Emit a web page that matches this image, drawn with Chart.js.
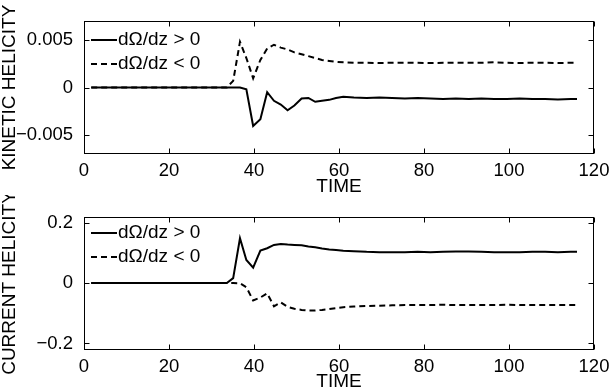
<!DOCTYPE html>
<html>
<head>
<meta charset="utf-8">
<script src="https://cdn.jsdelivr.net/npm/chart.js@4.4.1/dist/chart.umd.min.js"></script>
<style>
  html, body { margin: 0; padding: 0; background: #fff; overflow: hidden; }
  canvas { display: block; }
</style>
</head>
<body>
<canvas id="kineticChart" width="610" height="195"></canvas>
<canvas id="currentChart" width="610" height="195"></canvas>
<script>
// Data
const time = [
  1.7, 33.6, 35.1, 36.7, 38.2, 39.8, 41.5, 43.1, 44.7, 46.3, 47.9, 49.5, 51.2,
  52.8, 54.4, 56.0, 57.7, 59.3, 61.0, 63.5, 66.5, 69.5, 72.5, 75.5, 78.5, 81.5,
  84.5, 87.5, 90.5, 93.5, 96.5, 99.5, 102.5, 105.5, 108.5, 111.5, 114.5, 116.0,
];
const kineticPos = [
  0, 0, 0, 0, -0.0002, -0.00405, -0.00335, -0.0005, -0.0014, -0.0018, -0.0024,
  -0.0019, -0.00115, -0.0011, -0.0015, -0.0014, -0.0013, -0.0011, -0.00097,
  -0.00105, -0.0011, -0.00105, -0.0011, -0.00115, -0.0011, -0.00115, -0.0012,
  -0.00115, -0.0012, -0.00115, -0.0012, -0.0012, -0.00115, -0.0012, -0.0012,
  -0.00125, -0.0012, -0.0012,
];
const kineticNeg = [
  0, 0, 0.0007, 0.0048, 0.0031, 0.00097, 0.0029, 0.0041, 0.0045, 0.0042, 0.004,
  0.0037, 0.0035, 0.0033, 0.0031, 0.0029, 0.0028, 0.0027, 0.00265, 0.0026,
  0.0026, 0.00258, 0.0026, 0.00262, 0.0026, 0.00258, 0.0026, 0.00262, 0.0026,
  0.0026, 0.00265, 0.0026, 0.00258, 0.0026, 0.0026, 0.00258, 0.0026, 0.0026,
];
const currentPos = [
  0, 0, 0.016, 0.148, 0.076, 0.051, 0.107, 0.115, 0.126, 0.129, 0.127, 0.126,
  0.125, 0.121, 0.118, 0.114, 0.111, 0.109, 0.107, 0.105, 0.103, 0.102, 0.102,
  0.102, 0.103, 0.102, 0.103, 0.104, 0.104, 0.103, 0.102, 0.102, 0.102, 0.103,
  0.103, 0.102, 0.103, 0.103,
];
const currentNeg = [
  0, 0, 0, -0.001, -0.014, -0.058, -0.048, -0.034, -0.077, -0.064, -0.079,
  -0.085, -0.089, -0.091, -0.091, -0.089, -0.086, -0.083, -0.08, -0.078, -0.076,
  -0.075, -0.074, -0.073, -0.073, -0.073, -0.072, -0.073, -0.073, -0.073,
  -0.073, -0.072, -0.073, -0.073, -0.073, -0.073, -0.073, -0.073,
];
const seriesLabels = ["d\u03A9/dz > 0", "d\u03A9/dz < 0"];
const timeTicks = [0, 20, 40, 60, 80, 100, 120];
const kineticTicks = [-0.005, 0, 0.005];
const currentTicks = [-0.2, 0, 0.2];

const FONT_SIZE = 18.5;
const TEXT_SIZE = 19;
const FONT_FAMILY = "'Liberation Sans', Arial, Helvetica, sans-serif";
Chart.defaults.font.family = FONT_FAMILY;
Chart.defaults.font.size = FONT_SIZE;
Chart.defaults.color = "#000";

function fmt(v) {
  const s = String(Math.abs(v));
  return v < 0 ? "\u2212" + s : s;
}

// box around the axes with inward tick marks on all four sides
const frameTicks = {
  id: "frameTicks",
  afterDatasetsDraw(chart) {
    const { ctx, chartArea: a, scales } = chart;
    const L = Math.round(a.left) + 0.5;
    const R = Math.round(a.right) - 0.5;
    const T = Math.round(a.top) + 0.5;
    const B = Math.round(a.bottom) - 0.5;
    ctx.save();
    ctx.strokeStyle = "#000";
    ctx.lineWidth = 1;
    ctx.strokeRect(L, T, R - L, B - T);
    ctx.beginPath();
    scales.x.ticks.forEach((t) => {
      const px = Math.round(scales.x.getPixelForValue(t.value)) + 0.5;
      ctx.moveTo(px, B);
      ctx.lineTo(px, B - 5);
      ctx.moveTo(px, T);
      ctx.lineTo(px, T + 5);
    });
    scales.y.ticks.forEach((t) => {
      const py = Math.round(scales.y.getPixelForValue(t.value)) + 0.5;
      ctx.moveTo(L, py);
      ctx.lineTo(L + 5, py);
      ctx.moveTo(R, py);
      ctx.lineTo(R - 5, py);
    });
    ctx.stroke();
    ctx.restore();
  },
};

// legend drawn inside the top-left of the plot
const insideLegend = {
  id: "insideLegend",
  afterDatasetsDraw(chart, args, opts) {
    const { ctx, chartArea } = chart;
    ctx.save();
    chart.data.datasets.forEach((ds, i) => {
      const x = chartArea.left + 7;
      const y = chartArea.top + opts.top + i * opts.rowGap;
      ctx.beginPath();
      ctx.setLineDash(ds.borderDash || []);
      ctx.lineWidth = ds.borderWidth;
      ctx.strokeStyle = ds.borderColor;
      ctx.moveTo(x, y);
      ctx.lineTo(x + 26, y);
      ctx.stroke();
      ctx.setLineDash([]);
      ctx.fillStyle = "#000";
      ctx.font = TEXT_SIZE + "px " + FONT_FAMILY;
      ctx.textBaseline = "middle";
      ctx.fillText(ds.label, x + 27, y);
    });
    ctx.restore();
  },
};

function points(vals) {
  return time.map((t, i) => ({ x: t, y: vals[i] }));
}

function makePanel(id, pos, neg, yLimit, yTicks, yTitle, topPad, xHeight, legendTop) {
  const ctx = document.getElementById(id).getContext("2d");
  return new Chart(ctx, {
    type: "line",
    data: {
      datasets: [
        {
          label: seriesLabels[0],
          data: points(pos),
          borderColor: "#000",
          borderWidth: 2,
          pointRadius: 0,
          tension: 0,
        },
        {
          label: seriesLabels[1],
          data: points(neg),
          borderColor: "#000",
          borderWidth: 2,
          borderDash: [6, 4],
          pointRadius: 0,
          tension: 0,
        },
      ],
    },
    options: {
      responsive: false,
      animation: false,
      layout: {
        padding: { top: topPad, right: 16, bottom: 0, left: 0 },
      },
      plugins: {
        legend: { display: false },
        tooltip: { enabled: false },
        insideLegend: { top: legendTop, rowGap: 24 },
      },
      scales: {
        x: {
          type: "linear",
          min: 0,
          max: 120,
          grid: { display: false },
          border: { display: false },
          afterBuildTicks: (scale) => {
            scale.ticks = timeTicks.map((v) => ({ value: v }));
          },
          afterFit: (scale) => {
            scale.height = xHeight;
          },
          ticks: {
            padding: -2,
            autoSkip: false,
            maxRotation: 0,
            callback: (v) => fmt(v),
          },
          title: {
            display: true,
            text: "TIME",
            font: { size: TEXT_SIZE, lineHeight: 1 },
            padding: { top: 0, bottom: -1 },
          },
        },
        y: {
          min: -yLimit,
          max: yLimit,
          grid: { display: false },
          border: { display: false },
          afterBuildTicks: (scale) => {
            scale.ticks = yTicks.map((v) => ({ value: v }));
          },
          afterFit: (scale) => {
            scale.width = 84;
          },
          ticks: {
            padding: 3,
            callback: (v) => fmt(v),
          },
          title: {
            display: true,
            text: yTitle,
            font: { size: TEXT_SIZE, lineHeight: 1 },
            padding: { top: 0.5, bottom: 0 },
          },
        },
      },
    },
    plugins: [frameTicks, insideLegend],
  });
}

const kineticChart = makePanel(
  "kineticChart", kineticPos, kineticNeg, 0.007, kineticTicks,
  "KINETIC HELICITY", 21, 41, 19
);
const currentChart = makePanel(
  "currentChart", currentPos, currentNeg, 0.22, currentTicks,
  "CURRENT HELICITY", 21.5, 40.5, 16.5
);
</script>
</body>
</html>
